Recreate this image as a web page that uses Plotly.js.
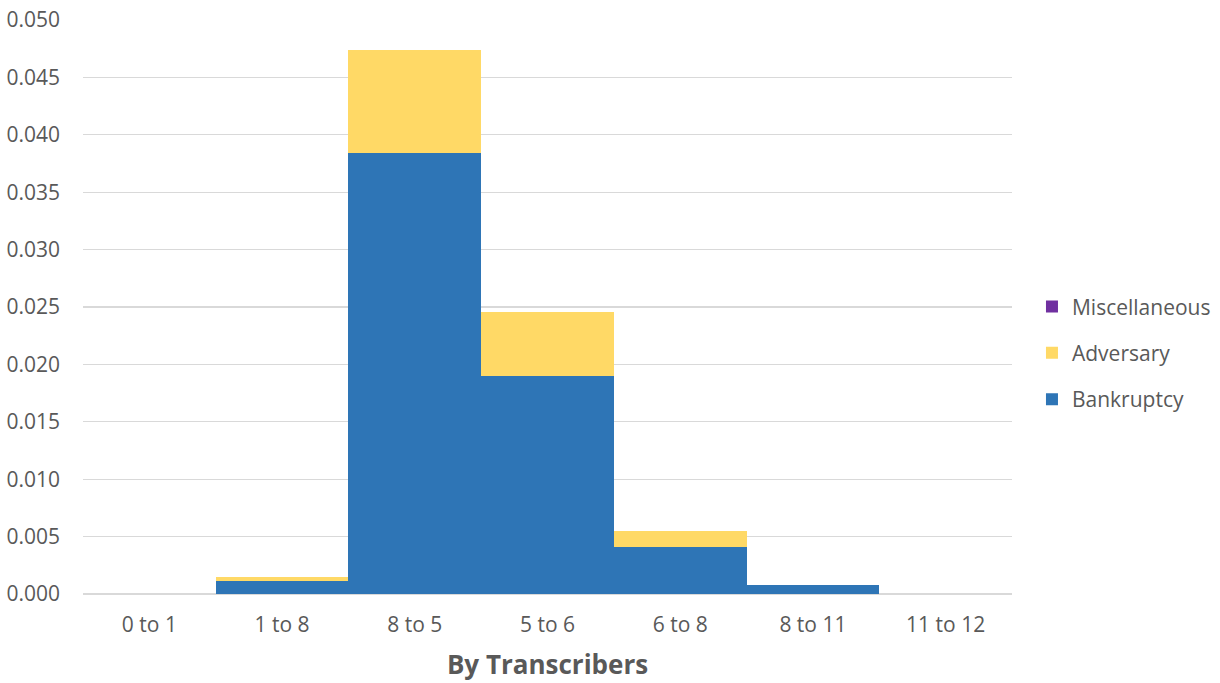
<!DOCTYPE html>
<html>
<head>
<meta charset="utf-8">
<script src="https://cdn.plot.ly/plotly-3.0.1.min.js"></script>
<style>html,body{margin:0;padding:0;background:#fff;}#chart{width:1220px;height:683px;}</style>
</head>
<body>
<div id="chart"></div>
<script>
const categories = ["0 to 1", "1 to 8", "8 to 5", "5 to 6", "6 to 8", "8 to 11", "11 to 12"];
const bankruptcy = [0, 0.0011, 0.0384, 0.0190, 0.0041, 0.0008, 0];
const adversary = [0, 0.00035, 0.0090, 0.0056, 0.0014, 0, 0];
const miscellaneous = [0, 0, 0, 0, 0, 0, 0];
const yTicks = [0, 0.005, 0.010, 0.015, 0.020, 0.025, 0.030, 0.035, 0.040, 0.045, 0.050];

const font = "'Open Sans', sans-serif";
const traces = [
  {type: "bar", name: "Bankruptcy", x: categories, y: bankruptcy, marker: {color: "#2E75B6"}, legendgroup: "b", legendrank: 3},
  {type: "bar", name: "Adversary", x: categories, y: adversary, marker: {color: "#FFD966"}, legendgroup: "a", legendrank: 2},
  {type: "bar", name: "Miscellaneous", x: categories, y: miscellaneous, marker: {color: "#7030A0"}, legendgroup: "m", legendrank: 1}
];
const layout = {
  width: 1220, height: 683,
  margin: {l: 83, r: 208, t: 20, b: 89, autoexpand: false},
  barmode: "stack", bargap: 0,
  paper_bgcolor: "#fff", plot_bgcolor: "#fff",
  font: {family: font, color: "#595959", size: 21},
  showlegend: true,
  legend: {x: 1.0215, y: 0.42, xanchor: "left", yanchor: "middle", traceorder: "grouped",
           tracegroupgap: 16, font: {size: 21, color: "#595959"}, itemwidth: 30},
  xaxis: {type: "category", showgrid: false, showline: false, zeroline: false, ticks: "",
          ticklabelstandoff: 16, automargin: false,
          tickfont: {size: 21, color: "#595959"},
          title: {text: "<b>By Transcribers</b>", font: {size: 26, color: "#595959"}, standoff: 18}},
  yaxis: {range: [0, 0.05], tickvals: yTicks, tickformat: ".3f", showgrid: true, gridcolor: "#d9d9d9",
          gridwidth: 1.3, zeroline: true, zerolinecolor: "#d9d9d9", zerolinewidth: 1.3, showline: false, ticks: "",
          ticklabelstandoff: 22, automargin: false,
          tickfont: {size: 21, color: "#595959"}}
};
Plotly.newPlot("chart", traces, layout, {displayModeBar: false, staticPlot: true});
</script>
</body>
</html>
